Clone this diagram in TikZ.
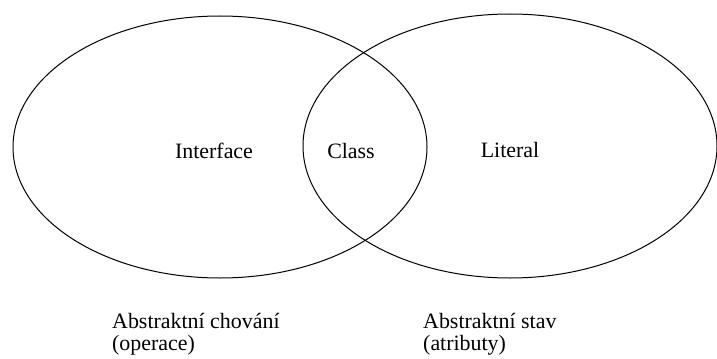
\documentclass[tikz,border=0pt]{standalone}
\usepackage{fontspec}
\setmainfont{Liberation Serif}
\begin{document}
\begin{tikzpicture}[x=1bp,y=1bp,font=\fontsize{22}{22}\selectfont,
  set-outline/.style={draw=black,line width=1bp},
  set-label/.style={anchor=base,inner sep=0pt},
  set-note/.style={anchor=base west,inner sep=0pt,align=left}]
\useasboundingbox (0,0) rectangle (717,358);
\coordinate (set-centre-0) at (220,211);
\coordinate (set-centre-1) at (510,212);
\path[set-outline] (set-centre-0) ellipse [x radius=207,y radius=131];
\path[set-outline] (set-centre-1) ellipse [x radius=207,y radius=132];
\node[set-label] (label-interface) at (214,200) {Interface};
\node[set-label] (label-class) at (351,200) {Class};
\node[set-label] (label-literal) at (510,201) {Literal};
\node[set-note] (note-0) at (112,8) {Abstraktní chování\\(operace)};
\node[set-note] (note-1) at (423,8) {Abstraktní stav\\(atributy)};
\end{tikzpicture}
\end{document}
